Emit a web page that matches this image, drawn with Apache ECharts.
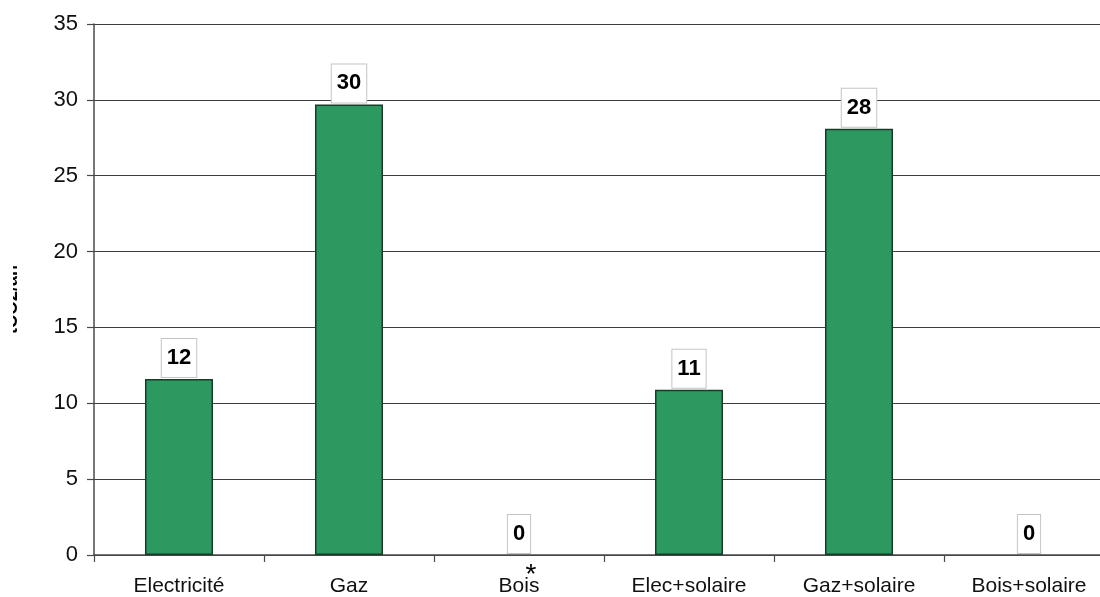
<!DOCTYPE html>
<html>
<head>
<meta charset="utf-8">
<script src="https://cdn.jsdelivr.net/npm/echarts@6/dist/echarts.min.js"></script>
<style>
  html, body { margin: 0; padding: 0; background: #ffffff; overflow: hidden; }
  /* drawing surface is a little wider than the page; the last column is cut by the window edge */
  #chart { width: 1120px; height: 597px; }
</style>
</head>
<body>
<div id="chart"></div>
<script>
// Heating systems compared
const categories = ['Electricité', 'Gaz', 'Bois', 'Elec+solaire', 'Gaz+solaire', 'Bois+solaire'];
// Yearly emissions per system (tCO2/an)
const emissions = [11.6, 29.7, 0, 10.9, 28.1, 0];
// Value axis range and step
const yMin = 0;
const yMax = 35;
const yStep = 5;
const yAxisTitle = 'tCO2/an';
// Footnote marker shown above a category name
const markedCategory = 'Bois';
const markerText = '*';

const FONT = '"Liberation Sans", Arial, sans-serif';

const chart = echarts.init(document.getElementById('chart'), null, { renderer: 'canvas' });

// Zero-valued bars only carry their label, no visible outline
const barData = emissions.map(v => v === 0
  ? { value: v, itemStyle: { borderWidth: 0, color: 'rgba(0,0,0,0)' } }
  : v);

chart.setOption({
  animation: false,
  backgroundColor: '#ffffff',
  grid: { left: 94, top: 24, bottom: 42, right: 6, containLabel: false },
  xAxis: {
    type: 'category',
    data: categories,
    axisLine: { show: true, lineStyle: { color: '#4a4a4a', width: 1.5 } },
    axisTick: { show: true, length: 7, lineStyle: { color: '#4a4a4a', width: 1.2 } },
    axisLabel: { color: '#111', fontFamily: FONT, fontSize: 21, margin: 21, interval: 0 },
    splitLine: { show: false }
  },
  yAxis: {
    type: 'value',
    min: yMin,
    max: yMax,
    interval: yStep,
    axisLine: { show: true, lineStyle: { color: '#4a4a4a', width: 1.5 } },
    axisTick: { show: true, length: 7, inside: false, lineStyle: { color: '#4a4a4a', width: 1.2 } },
    axisLabel: { color: '#111', fontFamily: FONT, fontSize: 22, margin: 16 },
    splitLine: { show: true, lineStyle: { color: '#3c3c3c', width: 1.2 } }
  },
  series: [{
    type: 'bar',
    data: barData,
    barWidth: '40%',
    itemStyle: { color: '#2c9a60', borderColor: '#173d28', borderWidth: 1.5 },
    label: {
      show: true,
      position: 'top',
      distance: 2,
      formatter: p => String(Math.round(p.value)),
      fontFamily: FONT,
      fontSize: 22,
      fontWeight: 'bold',
      color: '#000',
      lineHeight: 22,
      backgroundColor: '#ffffff',
      borderColor: '#c4c4c4',
      borderWidth: 1,
      padding: [8, 5, 8, 5]
    }
  }]
});

// Axis title (rotated, its left side running off the page) and the footnote marker
const zeroY = chart.convertToPixel({ yAxisIndex: 0 }, yMin);
const midY = (chart.convertToPixel({ yAxisIndex: 0 }, yMax) + zeroY) / 2;
const markX = chart.convertToPixel({ xAxisIndex: 0 }, markedCategory);

chart.setOption({
  graphic: [
    {
      type: 'text',
      x: 21,
      y: midY + 10,
      rotation: Math.PI / 2,
      style: {
        text: yAxisTitle,
        font: 'bold 18px ' + FONT,
        fill: '#000',
        align: 'center',
        verticalAlign: 'bottom'
      }
    },
    {
      type: 'rect',
      shape: { x: 0, y: 0, width: 13, height: 597 },
      style: { fill: '#ffffff' },
      z: 100
    },
    {
      type: 'text',
      x: markX + 12,
      y: zeroY + 20,
      style: {
        text: markerText,
        font: '28px ' + FONT,
        fill: '#000',
        align: 'center',
        verticalAlign: 'middle'
      }
    }
  ]
});
</script>
</body>
</html>
